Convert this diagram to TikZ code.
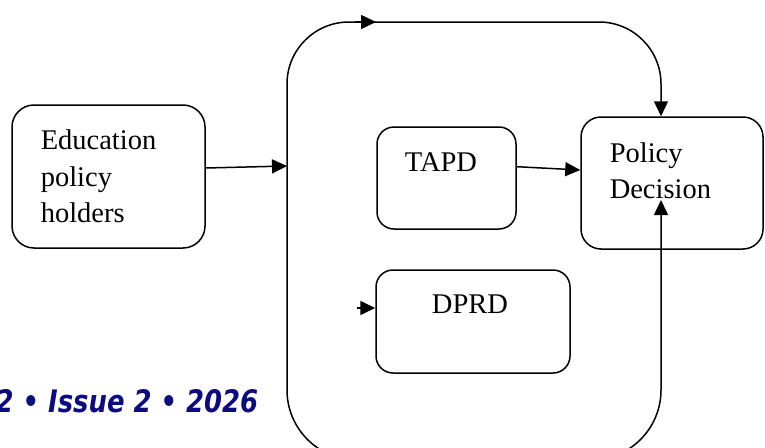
\documentclass[tikz,border=0pt]{standalone}
\usepackage{fontspec}
\usepackage{graphicx}
\setmainfont{Liberation Serif}
\newfontfamily\footfont{DejaVu Sans}
\usetikzlibrary{arrows.meta}
\definecolor{navyblue}{RGB}{12,12,128}
\begin{document}
\begin{tikzpicture}[x=1pt,y=-1pt,line width=1.5pt,
  box/.style={draw,inner sep=0pt,rounded corners=#1},
  box/.default=18pt,
  lbl/.style={inner sep=0pt,font=\fontsize{28.5}{36}\selectfont},
  arr/.style={-{Triangle[length=15pt,width=14pt]}}]
\useasboundingbox (0,0) rectangle (765,447);
\clip (0,0) rectangle (765,447);
% boxes
\node[box=22pt,minimum width=193pt,minimum height=143pt] (edu) at (108.5,176.5) {};
\node[box=17pt,minimum width=139pt,minimum height=102pt] (tapd) at (446.5,178) {};
\node[box=17pt,minimum width=194pt,minimum height=103pt] (dprd) at (473,321.5) {};
\node[box=20pt,minimum width=182pt,minimum height=132pt] (pol) at (672,183) {};
% texts
\node[lbl,anchor=base west] (t1) at (40,149) {Education};
\node[lbl,anchor=base west] (t2) at (40,186) {policy};
\node[lbl,anchor=base west] (t3) at (40,222) {holders};
\node[lbl,anchor=base] (t4) at (441,171) {TAPD};
\node[lbl,anchor=base] (t5) at (470,313) {DPRD};
\node[lbl,anchor=base west] (t6) at (609,162) {Policy};
\node[lbl,anchor=base west] (t7) at (609,198) {Decision};
% coordinates
\coordinate (cL) at (287,166);
\coordinate (polTop) at ([xshift=-11pt]pol.north);
\coordinate (polIn) at ([xshift=-11pt,yshift=-17pt]pol.center);
\coordinate (stub) at (357,308);
\coordinate (midA) at (355,22);
\coordinate (midB) at (376,22);
% container loop
\draw[arr,rounded corners=62pt] (cL) -- (287,22) -- (661,22) -- (polTop);
\draw[arr,rounded corners=70pt] (cL) -- (287,460) -- (661,460) -- (polIn);
\draw[arr] (midA) -- (midB);
% connectors
\draw[arr] ([yshift=8.5pt]edu.east) -- (cL);
\draw[arr] ([yshift=11.3pt]tapd.east) -- ([yshift=13pt]pol.west);
\draw[arr] (stub) -- ([yshift=13.5pt]dprd.west);
% footer
\node[anchor=base east,inner sep=0pt,text=navyblue,font=\footfont\bfseries\itshape\fontsize{31}{34}\selectfont] (foot) at (259,412) {\scalebox{0.835}[1]{32 • Issue 2 • 2026}};
\end{tikzpicture}
\end{document}
